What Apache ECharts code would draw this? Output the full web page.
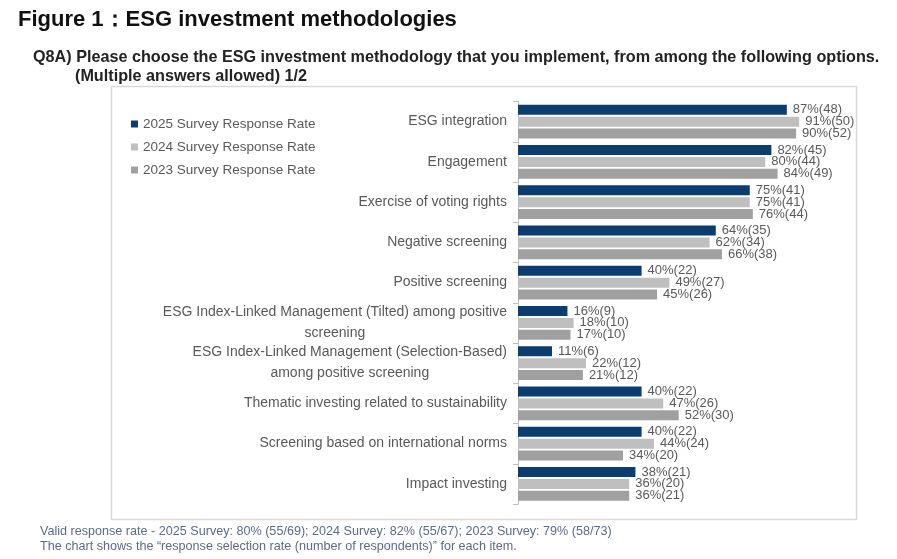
<!DOCTYPE html>
<html><head><meta charset="utf-8">
<script src="https://cdn.jsdelivr.net/npm/echarts@6/dist/echarts.min.js"></script>
<style>html,body{margin:0;padding:0;background:#fff}#c{width:897px;height:559px}</style>
</head><body><div id="c"></div>
<script>
const categories = [
  'ESG integration',
  'Engagement',
  'Exercise of voting rights',
  'Negative screening',
  'Positive screening',
  'ESG Index-Linked Management (Tilted) among positive\nscreening',
  'ESG Index-Linked Management (Selection-Based)\namong positive screening',
  'Thematic investing related to sustainability',
  'Screening based on international norms',
  'Impact investing'
];
const seriesNames = ['2025 Survey Response Rate','2024 Survey Response Rate','2023 Survey Response Rate'];
const rate2025 = [87,82,75,64,40,16,11,40,40,38];
const count2025 = [48,45,41,35,22,9,6,22,22,21];
const rate2024 = [91,80,75,62,49,18,22,47,44,36];
const count2024 = [50,44,41,34,27,10,12,26,24,20];
const rate2023 = [90,84,76,66,45,17,21,52,34,36];
const count2023 = [52,49,44,38,26,10,12,30,20,21];
const colors = ['#0b3d70','#bfbfbf','#a0a0a0'];

const FONT = 'Liberation Sans';
const chart = echarts.init(document.getElementById('c'));

function mkSeries(i, rates, counts){
  return {
    name: seriesNames[i], type: 'bar',
    data: rates.map((v,k)=>({value:v, cnt:counts[k]})),
    barWidth: 10, barGap: '18%',
    itemStyle: {color: colors[i]},
    label: {show:true, position:'right', distance:6, color:'#595959', fontSize:13, fontFamily:FONT,
      formatter: p => p.value + '%(' + p.data.cnt + ')'},
    animation:false
  };
}

chart.setOption({
  animation:false,
  title: [
    {text:'Figure 1：ESG investment methodologies', left:13, top:4,
      textStyle:{fontSize:22, fontWeight:'bold', color:'#111', fontFamily:FONT}},
    {text:'Q8A) Please choose the ESG investment methodology that you implement, from among the following options.', left:28, top:45,
      textStyle:{fontSize:16.2, fontWeight:'bold', color:'#222', fontFamily:FONT}},
    {text:'(Multiple answers allowed) 1/2', left:70, top:64,
      textStyle:{fontSize:16.2, fontWeight:'bold', color:'#222', fontFamily:FONT}},
    {text:'Valid response rate - 2025 Survey: 80% (55/69); 2024 Survey: 82% (55/67); 2023 Survey: 79% (58/73)\nThe chart shows the \u201cresponse selection rate (number of respondents)\u201d for each item.', left:35, top:519,
      textStyle:{fontSize:12.6, fontWeight:'normal', color:'#5b6b8c', fontFamily:FONT, lineHeight:15}}
  ],
  graphic: [{type:'rect', shape:{x:111.5, y:86.5, width:745, height:433}, style:{fill:'none', stroke:'#d9d9d9', lineWidth:1.5}, z:-1}],
  legend: {orient:'vertical', left:126, top:112, itemWidth:7, itemHeight:7, itemGap:9, icon:'rect',
    textStyle:{color:'#595959', fontSize:13.5, fontFamily:FONT}, data: seriesNames},
  grid: {left:518, right:70, top:101.5, bottom:55, containLabel:false},
  xAxis: {type:'value', min:0, max:100, show:false, splitLine:{show:false}},
  yAxis: {type:'category', data:categories, inverse:true,
    axisLine:{lineStyle:{color:'#bfbfbf'}},
    axisTick:{show:true, length:5, lineStyle:{color:'#bfbfbf'}},
    axisLabel:{color:'#595959', fontSize:14, fontFamily:FONT, margin:11, lineHeight:21,
      formatter: v => v.split('\n').map(s=>'{c|'+s+'}').join('\n'),
      rich:{c:{align:'center', color:'#595959', fontSize:14, fontFamily:FONT, lineHeight:21}}}
  },
  series: [mkSeries(0,rate2025,count2025), mkSeries(1,rate2024,count2024), mkSeries(2,rate2023,count2023)]
});
</script></body></html>
